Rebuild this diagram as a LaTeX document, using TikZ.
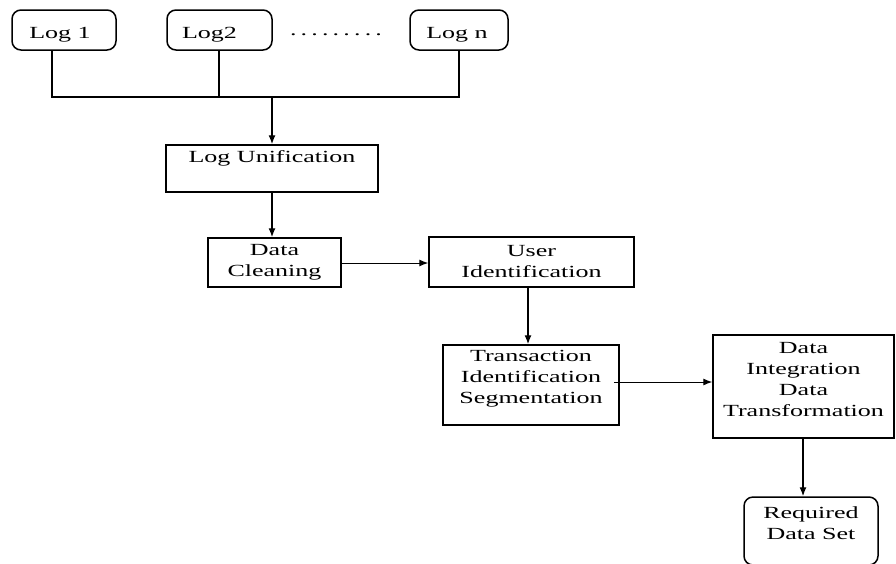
\documentclass[tikz,border=0pt]{standalone}
\usepackage{fontspec}
\setmainfont[FakeStretch=1.53]{Liberation Serif}
\usetikzlibrary{arrows.meta}
\begin{document}
\begin{tikzpicture}[x=1pt,y=-1pt,
  every node/.style={font=\fontsize{17}{21}\selectfont, inner sep=0pt, align=center},
  box/.style={draw, line width=1.5pt},
  rbox/.style={draw, line width=1.5pt, rounded corners=9pt},
  conn/.style={line width=1.3pt},
  arr/.style={line width=1.3pt, -{Latex[length=9pt,width=7pt]}},
  thinarr/.style={line width=1pt, -{Latex[length=9pt,width=7pt]}}]
\clip (0,0) rectangle (896,563);
\useasboundingbox (0,0) rectangle (896,563);
% top logs
\node[rbox, minimum width=104pt, minimum height=40pt,
  label={[xshift=-4pt,yshift=-5pt]center:Log 1}] (log1) at (64,30) {};
\node[rbox, minimum width=105pt, minimum height=40pt,
  label={[xshift=-10pt,yshift=-5pt]center:Log2}] (log2) at (219.5,30) {};
\node[anchor=base] (dots) at (336,35) {\makebox[92pt][s]{.\hfill.\hfill.\hfill.\hfill.\hfill.\hfill.\hfill.\hfill.}};
\node[rbox, minimum width=98pt, minimum height=40pt,
  label={[xshift=-2pt,yshift=-5pt]center:Log n}] (logn) at (459,30) {};
% junction
\coordinate (j1) at (52,97);
\coordinate (j2) at (219,97);
\coordinate (jn) at (459,97);
\coordinate (jm) at (272,97);
\draw[conn] (log1.south -| j1) -- (j1) -- (jn) -- (logn.south);
\draw[conn] (log2.south -| j2) -- (j2);
% main boxes
\node[box, minimum width=212pt, minimum height=47pt,
  label={[yshift=10.5pt]center:Log Unification}] (lu) at (272,168.5) {};
\draw[arr] (jm) -- (lu.north);
\node[box, minimum width=133pt, minimum height=49pt] (dc) at (274.5,262.5) {Data\\Cleaning};
\draw[arr] (lu.south) -- (lu.south |- dc.north);
\node[box, minimum width=205pt, minimum height=50pt] (ui) at (531.5,262) {User\\Identification};
\draw[thinarr] (dc.east |- 0,263) -- (ui.west |- 0,263);
\node[box, minimum width=176pt, minimum height=80pt,
  label={[yshift=6pt]center:Transaction\\Identification\\Segmentation}] (tr) at (531,385) {};
\draw[arr] (ui.south -| 528,0) -- (tr.north -| 528,0);
\node[box, minimum width=181pt, minimum height=103pt,
  label={[yshift=6.5pt]center:Data\\Integration\\Data\\Transformation}] (di) at (803.5,386.5) {};
\draw[thinarr] ([xshift=-6pt]tr.east |- 0,382) -- (di.west |- 0,382);
\node[rbox, minimum width=134pt, minimum height=68pt,
  label={[yshift=8pt]center:Required\\Data Set}] (rds) at (811,531) {};
\draw[arr] (di.south -| 803,0) -- (rds.north -| 803,0);
\end{tikzpicture}
\end{document}
